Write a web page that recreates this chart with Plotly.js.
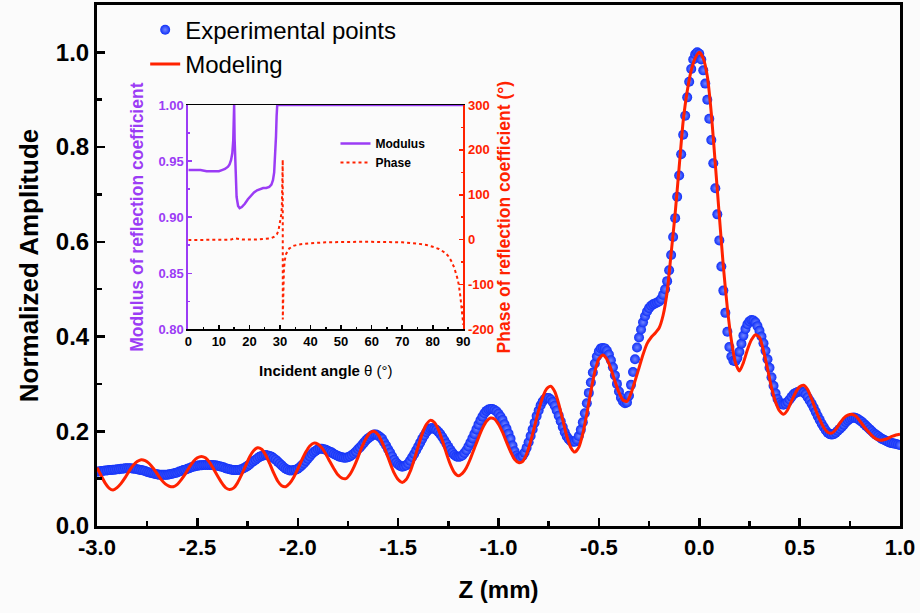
<!DOCTYPE html>
<html>
<head>
<meta charset="utf-8">
<script src="https://cdn.plot.ly/plotly-3.0.1.min.js"></script>
<style>html,body{margin:0;padding:0;background:#fbfbfb;}#chart{width:920px;height:613px;}</style>
</head>
<body>
<div id="chart"></div>
<script>
// ---------- Main chart data ----------
// Experimental points, z (mm), left part (-3.00 .. -1.01)
const expZLeft = [
-3,-2.99,-2.98,-2.97,-2.96,-2.95,-2.94,-2.93,-2.92,-2.91,
-2.9,-2.89,-2.88,-2.87,-2.86,-2.85,-2.84,-2.83,-2.82,-2.81,
-2.8,-2.79,-2.78,-2.77,-2.76,-2.75,-2.74,-2.73,-2.72,-2.71,
-2.7,-2.69,-2.68,-2.67,-2.66,-2.65,-2.64,-2.63,-2.62,-2.61,
-2.6,-2.59,-2.58,-2.57,-2.56,-2.55,-2.54,-2.53,-2.52,-2.51,
-2.5,-2.49,-2.48,-2.47,-2.46,-2.45,-2.44,-2.43,-2.42,-2.41,
-2.4,-2.39,-2.38,-2.37,-2.36,-2.35,-2.34,-2.33,-2.32,-2.31,
-2.3,-2.29,-2.28,-2.27,-2.26,-2.25,-2.24,-2.23,-2.22,-2.21,
-2.2,-2.19,-2.18,-2.17,-2.16,-2.15,-2.14,-2.13,-2.12,-2.11,
-2.1,-2.09,-2.08,-2.07,-2.06,-2.05,-2.04,-2.03,-2.02,-2.01,
-2,-1.99,-1.98,-1.97,-1.96,-1.95,-1.94,-1.93,-1.92,-1.91,
-1.9,-1.89,-1.88,-1.87,-1.86,-1.85,-1.84,-1.83,-1.82,-1.81,
-1.8,-1.79,-1.78,-1.77,-1.76,-1.75,-1.74,-1.73,-1.72,-1.71,
-1.7,-1.69,-1.68,-1.67,-1.66,-1.65,-1.64,-1.63,-1.62,-1.61,
-1.6,-1.59,-1.58,-1.57,-1.56,-1.55,-1.54,-1.53,-1.52,-1.51,
-1.5,-1.49,-1.48,-1.47,-1.46,-1.45,-1.44,-1.43,-1.42,-1.41,
-1.4,-1.39,-1.38,-1.37,-1.36,-1.35,-1.34,-1.33,-1.32,-1.31,
-1.3,-1.29,-1.28,-1.27,-1.26,-1.25,-1.24,-1.23,-1.22,-1.21,
-1.2,-1.19,-1.18,-1.17,-1.16,-1.15,-1.14,-1.13,-1.12,-1.11,
-1.1,-1.09,-1.08,-1.07,-1.06,-1.05,-1.04,-1.03,-1.02,-1.01];
const expAmpLeft = [
0.115,0.115,0.116,0.116,0.117,0.117,0.118,0.118,0.119,0.119,
0.120,0.120,0.121,0.121,0.122,0.122,0.122,0.122,0.121,0.121,
0.120,0.119,0.118,0.117,0.116,0.114,0.113,0.112,0.111,0.110,
0.109,0.108,0.108,0.108,0.108,0.108,0.109,0.110,0.111,0.112,
0.113,0.115,0.116,0.118,0.119,0.121,0.122,0.124,0.125,0.126,
0.127,0.128,0.128,0.129,0.129,0.129,0.129,0.129,0.128,0.128,
0.127,0.126,0.125,0.124,0.122,0.121,0.120,0.119,0.118,0.118,
0.118,0.119,0.120,0.122,0.124,0.127,0.130,0.134,0.137,0.140,
0.143,0.146,0.148,0.149,0.150,0.149,0.148,0.146,0.143,0.140,
0.136,0.132,0.128,0.124,0.121,0.119,0.117,0.117,0.118,0.119,
0.121,0.124,0.128,0.132,0.137,0.142,0.147,0.152,0.156,0.159,
0.162,0.163,0.163,0.162,0.161,0.159,0.157,0.155,0.152,0.150,
0.148,0.146,0.145,0.144,0.144,0.145,0.147,0.150,0.153,0.157,
0.162,0.166,0.171,0.176,0.181,0.185,0.188,0.191,0.193,0.193,
0.191,0.188,0.184,0.177,0.170,0.162,0.155,0.147,0.140,0.134,
0.130,0.127,0.125,0.126,0.128,0.132,0.138,0.145,0.152,0.160,
0.168,0.176,0.184,0.191,0.198,0.203,0.206,0.207,0.205,0.203,
0.199,0.194,0.188,0.181,0.174,0.167,0.161,0.155,0.150,0.147,
0.146,0.147,0.149,0.154,0.160,0.168,0.176,0.185,0.194,0.204,
0.214,0.223,0.231,0.238,0.243,0.246,0.247,0.247,0.245,0.242];
// Experimental points, right part (-1.00 .. 1.00)
const expZRight = [
-1,-0.99,-0.98,-0.97,-0.96,-0.95,-0.94,-0.93,-0.92,-0.91,
-0.9,-0.89,-0.88,-0.87,-0.86,-0.85,-0.84,-0.83,-0.82,-0.81,
-0.8,-0.79,-0.78,-0.77,-0.76,-0.75,-0.74,-0.73,-0.72,-0.71,
-0.7,-0.69,-0.68,-0.67,-0.66,-0.65,-0.64,-0.63,-0.62,-0.61,
-0.6,-0.59,-0.58,-0.57,-0.56,-0.55,-0.54,-0.53,-0.52,-0.51,
-0.5,-0.49,-0.48,-0.47,-0.46,-0.45,-0.44,-0.43,-0.42,-0.41,
-0.4,-0.39,-0.38,-0.37,-0.36,-0.35,-0.34,-0.33,-0.32,-0.31,
-0.3,-0.29,-0.28,-0.27,-0.26,-0.25,-0.24,-0.23,-0.22,-0.21,
-0.2,-0.19,-0.18,-0.17,-0.16,-0.15,-0.14,-0.13,-0.12,-0.11,
-0.1,-0.09,-0.08,-0.07,-0.06,-0.05,-0.04,-0.03,-0.02,-0.01,
0,0.01,0.02,0.03,0.04,0.05,0.06,0.07,0.08,0.09,
0.1,0.11,0.12,0.13,0.14,0.15,0.16,0.17,0.18,0.19,
0.2,0.21,0.22,0.23,0.24,0.25,0.26,0.27,0.28,0.29,
0.3,0.31,0.32,0.33,0.34,0.35,0.36,0.37,0.38,0.39,
0.4,0.41,0.42,0.43,0.44,0.45,0.46,0.47,0.48,0.49,
0.5,0.51,0.52,0.53,0.54,0.55,0.56,0.57,0.58,0.59,
0.6,0.61,0.62,0.63,0.64,0.65,0.66,0.67,0.68,0.69,
0.7,0.71,0.72,0.73,0.74,0.75,0.76,0.77,0.78,0.79,
0.8,0.81,0.82,0.83,0.84,0.85,0.86,0.87,0.88,0.89,
0.9,0.91,0.92,0.93,0.94,0.95,0.96,0.97,0.98,0.99,
1];
const expAmpRight = [
0.237,0.231,0.224,0.215,0.205,0.195,0.184,0.170,0.158,0.149,
0.144,0.144,0.148,0.155,0.165,0.177,0.190,0.204,0.218,0.232,
0.244,0.255,0.263,0.268,0.270,0.270,0.267,0.262,0.254,0.244,
0.233,0.221,0.209,0.198,0.189,0.183,0.179,0.178,0.178,0.182,
0.190,0.203,0.219,0.238,0.259,0.281,0.303,0.324,0.343,0.358,
0.369,0.375,0.376,0.375,0.370,0.362,0.350,0.335,0.318,0.300,
0.284,0.271,0.263,0.259,0.261,0.275,0.298,0.325,0.352,0.377,
0.398,0.415,0.430,0.443,0.453,0.460,0.465,0.468,0.470,0.472,
0.474,0.479,0.488,0.500,0.517,0.540,0.572,0.610,0.650,0.695,
0.740,0.785,0.826,0.866,0.905,0.938,0.965,0.985,0.996,1.000,
0.997,0.985,0.962,0.934,0.900,0.860,0.815,0.766,0.713,0.658,
0.603,0.548,0.497,0.450,0.410,0.378,0.358,0.349,0.348,0.355,
0.368,0.385,0.402,0.416,0.426,0.432,0.435,0.434,0.430,0.422,
0.412,0.400,0.386,0.370,0.352,0.334,0.314,0.296,0.280,0.268,
0.261,0.257,0.256,0.258,0.262,0.267,0.273,0.278,0.281,0.283,
0.284,0.284,0.282,0.278,0.272,0.265,0.258,0.250,0.241,0.232,
0.224,0.216,0.209,0.202,0.197,0.194,0.193,0.194,0.197,0.201,
0.205,0.209,0.214,0.219,0.223,0.226,0.228,0.229,0.228,0.226,
0.223,0.220,0.216,0.212,0.208,0.204,0.200,0.196,0.193,0.190,
0.187,0.184,0.182,0.180,0.178,0.176,0.175,0.174,0.173,0.172,
0.171];

// Modeling curve
const modelZ = [
-3,-2.98,-2.96,-2.94,-2.92,-2.9,-2.88,-2.86,-2.84,-2.82,
-2.8,-2.78,-2.76,-2.74,-2.72,-2.7,-2.68,-2.66,-2.64,-2.62,
-2.6,-2.58,-2.56,-2.54,-2.52,-2.5,-2.48,-2.46,-2.44,-2.42,
-2.4,-2.38,-2.36,-2.34,-2.32,-2.3,-2.28,-2.26,-2.24,-2.22,
-2.2,-2.18,-2.16,-2.14,-2.12,-2.1,-2.08,-2.06,-2.04,-2.02,
-2,-1.98,-1.96,-1.94,-1.92,-1.9,-1.88,-1.86,-1.84,-1.82,
-1.8,-1.78,-1.76,-1.74,-1.72,-1.7,-1.68,-1.66,-1.64,-1.62,
-1.6,-1.58,-1.56,-1.54,-1.52,-1.5,-1.48,-1.46,-1.44,-1.42,
-1.4,-1.38,-1.36,-1.34,-1.32,-1.3,-1.28,-1.26,-1.24,-1.22,
-1.2,-1.18,-1.16,-1.14,-1.12,-1.1,-1.08,-1.06,-1.04,-1.02,
-1,-0.98,-0.96,-0.94,-0.92,-0.9,-0.88,-0.86,-0.84,-0.82,
-0.8,-0.78,-0.76,-0.74,-0.72,-0.7,-0.68,-0.66,-0.64,-0.62,
-0.6,-0.58,-0.56,-0.54,-0.52,-0.5,-0.48,-0.46,-0.44,-0.42,
-0.4,-0.38,-0.36,-0.34,-0.32,-0.3,-0.28,-0.26,-0.24,-0.22,
-0.2,-0.18,-0.16,-0.14,-0.12,-0.1,-0.08,-0.06,-0.04,-0.02,
0,0.02,0.04,0.06,0.08,0.1,0.12,0.14,0.16,0.18,
0.2,0.22,0.24,0.26,0.28,0.3,0.32,0.34,0.36,0.38,
0.4,0.42,0.44,0.46,0.48,0.5,0.52,0.54,0.56,0.58,
0.6,0.62,0.64,0.66,0.68,0.7,0.72,0.74,0.76,0.78,
0.8,0.82,0.84,0.86,0.88,0.9,0.92,0.94,0.96,0.98,
1];
const modelAmp = [
0.123,0.107,0.091,0.080,0.076,0.081,0.090,0.102,0.116,0.128,
0.136,0.140,0.138,0.132,0.122,0.110,0.098,0.089,0.084,0.083,
0.088,0.098,0.110,0.124,0.136,0.144,0.147,0.144,0.135,0.121,
0.106,0.092,0.081,0.077,0.080,0.091,0.108,0.127,0.146,0.159,
0.165,0.162,0.150,0.132,0.112,0.095,0.085,0.083,0.090,0.103,
0.120,0.139,0.156,0.169,0.175,0.173,0.165,0.152,0.136,0.121,
0.108,0.101,0.100,0.109,0.125,0.145,0.167,0.185,0.197,0.200,
0.193,0.177,0.156,0.133,0.112,0.098,0.092,0.098,0.115,0.140,
0.168,0.195,0.214,0.223,0.219,0.204,0.181,0.154,0.130,0.113,
0.106,0.111,0.123,0.142,0.164,0.186,0.206,0.221,0.228,0.226,
0.215,0.198,0.177,0.157,0.141,0.134,0.136,0.152,0.178,0.211,
0.244,0.272,0.290,0.295,0.284,0.258,0.224,0.190,0.166,0.156,
0.166,0.195,0.237,0.284,0.326,0.353,0.361,0.352,0.332,0.306,
0.282,0.266,0.263,0.280,0.306,0.334,0.362,0.385,0.398,0.407,
0.418,0.445,0.494,0.576,0.660,0.758,0.855,0.918,0.962,0.988,
1.000,0.987,0.950,0.872,0.764,0.655,0.548,0.460,0.392,0.345,
0.327,0.345,0.372,0.393,0.404,0.398,0.370,0.332,0.292,0.262,
0.243,0.236,0.245,0.264,0.282,0.294,0.297,0.288,0.268,0.245,
0.225,0.208,0.198,0.196,0.204,0.217,0.228,0.234,0.236,0.232,
0.222,0.210,0.200,0.191,0.184,0.181,0.182,0.185,0.189,0.192,
0.194];

const xTickVals = [-3,-2.5,-2,-1.5,-1,-0.5,0,0.5,1];
const xTickText = ['-3.0','-2.5','-2.0','-1.5','-1.0','-0.5','0.0','0.5','1.0'];
const yTickVals = [0,0.2,0.4,0.6,0.8,1.0];
const yTickText = ['0.0','0.2','0.4','0.6','0.8','1.0'];

// ---------- Inset data ----------
const modAngle = [0,2,4,6,8,10,11,12,13,13.5,14,14.4,14.7,14.9,15.0,15.15,15.4,15.8,16.3,16.8,17.5,18.5,19.5,20.5,21.5,22.5,23.5,24.5,25.5,26.5,27.2,27.7,28.1,28.4,28.7,28.9,29.1,35,45,60,75,90];
const modVal = [0.942,0.942,0.942,0.941,0.941,0.941,0.942,0.943,0.945,0.947,0.951,0.957,0.968,0.985,1.0,0.97,0.94,0.918,0.910,0.908,0.909,0.912,0.916,0.919,0.922,0.924,0.925,0.926,0.926,0.927,0.929,0.933,0.940,0.952,0.972,0.99,1.0,1.0,1.0,1.0,1.0,1.0];
const phaseAngle = [0,5,10,14,15,16,18,22,25,27,28,29,29.5,30,30.4,30.6,30.8,30.9,30.92,31.0,31.1,31.3,31.6,32,33,34.4,36,38,40,45,50,55,60,65,70,75,78,80,82,84,85,86,87,88,88.5,89,89.5,90];
const phaseVal = [-1,-1,-1,0,3,2,0,0,1,3,6,12,20,36,55,70,110,178,-178,-150,-110,-65,-45,-32,-20,-14,-11,-9,-8,-6,-5,-5,-5,-5,-6,-9,-12,-16,-21,-29,-36,-47,-62,-85,-100,-125,-155,-190];
const inXTickVals = [0,10,20,30,40,50,60,70,80,90];
const inXTickText = ['0','10','20','30','40','50','60','70','80','90'];
const inYTickVals = [0.80,0.85,0.90,0.95,1.00];
const inYTickText = ['0.80','0.85','0.90','0.95','1.00'];
const inY2TickVals = [-200,-100,0,100,200,300];
const inY2TickText = ['-200','-100','0','100','200','300'];

const FONT = 'Liberation Sans, Arial, Helvetica, sans-serif';
const PURPLE = '#9b3cf5';
const RED = '#ff2200';
const BLUE = '#1030f8';

const traces = [
  {
    x: expZLeft.concat(expZRight), y: expAmpLeft.concat(expAmpRight),
    type: 'scatter', mode: 'markers', name: 'Experimental points',
    marker: {size: 10, color: BLUE, gradient: {type: 'radial', color: '#7185ff'}, line: {width: 0}},
    legend: 'legend'
  },
  {
    x: modelZ, y: modelAmp, type: 'scatter', mode: 'lines', name: 'Modeling',
    line: {color: RED, width: 3, shape: 'spline', smoothing: 0.6},
    legend: 'legend'
  },
  {
    x: modAngle, y: modVal, xaxis: 'x2', yaxis: 'y2', type: 'scatter', mode: 'lines', name: 'Modulus',
    line: {color: PURPLE, width: 2.5}, legend: 'legend2'
  },
  {
    x: phaseAngle, y: phaseVal, xaxis: 'x2', yaxis: 'y3', type: 'scatter', mode: 'lines', name: 'Phase',
    line: {color: RED, width: 2, dash: 'dot'}, legend: 'legend2'
  }
];

const layout = {
  width: 920, height: 613,
  margin: {l: 97, r: 20, t: 5, b: 87},
  paper_bgcolor: '#fbfbfb', plot_bgcolor: '#fbfbfb',
  font: {family: FONT, color: '#000'},
  showlegend: true,
  legend: {
    x: 0.06, y: 0.995, xanchor: 'left', yanchor: 'top',
    bgcolor: 'rgba(0,0,0,0)', font: {family: FONT, size: 24, color: '#000'},
    tracegroupgap: 0
  },
  legend2: {
    x: 0.297, y: 0.762, xanchor: 'left', yanchor: 'top',
    bgcolor: 'rgba(0,0,0,0)', font: {family: FONT, size: 12, color: '#000', weight: 'bold'},
    tracegroupgap: 0
  },
  xaxis: {
    domain: [0, 1], range: [-3, 1], anchor: 'y',
    tickmode: 'array', tickvals: xTickVals, ticktext: xTickText,
    ticks: 'inside', ticklen: 8, tickwidth: 2.5, tickcolor: '#000',
    minor: {tickmode: 'linear', tick0: -3, dtick: 0.25, ticks: 'inside', ticklen: 5, tickwidth: 2.5, tickcolor: '#000'},
    showline: true, linecolor: '#000', linewidth: 3, mirror: true,
    showgrid: false, zeroline: false,
    tickfont: {family: FONT, size: 22, color: '#000', weight: 'bold'},
    title: {text: 'Z (mm)', font: {family: FONT, size: 24, color: '#000', weight: 'bold'}, standoff: 22}
  },
  yaxis: {
    domain: [0, 1], range: [0, 1.1], anchor: 'x',
    tickmode: 'array', tickvals: yTickVals, ticktext: yTickText,
    ticks: 'inside', ticklen: 8, tickwidth: 2.5, tickcolor: '#000',
    minor: {tickmode: 'linear', tick0: 0, dtick: 0.1, ticks: 'inside', ticklen: 5, tickwidth: 2.5, tickcolor: '#000'},
    showline: true, linecolor: '#000', linewidth: 3, mirror: true,
    showgrid: false, zeroline: false,
    tickfont: {family: FONT, size: 24, color: '#000', weight: 'bold'},
    title: {text: 'Normalized Amplitude', font: {family: FONT, size: 26, color: '#000', weight: 'bold'}, standoff: 10}
  },
  xaxis2: {
    domain: [0.1137, 0.4562], range: [0, 90], anchor: 'y2',
    tickmode: 'array', tickvals: inXTickVals, ticktext: inXTickText,
    ticks: 'inside', ticklen: 4, tickwidth: 1.5, tickcolor: '#000',
    minor: {tickmode: 'linear', tick0: 0, dtick: 5, ticks: 'inside', ticklen: 2, tickwidth: 1.5, tickcolor: '#000'},
    showline: true, linecolor: '#000', linewidth: 1.5, mirror: true,
    showgrid: false, zeroline: false,
    tickfont: {family: FONT, size: 13, color: '#000', weight: 'bold'},
    title: {text: '<b>Incident angle </b>θ (°)', font: {family: FONT, size: 15, color: '#000'}, standoff: 17}
  },
  yaxis2: {
    domain: [0.3775, 0.808], range: [0.8, 1.0], anchor: 'x2',
    tickmode: 'array', tickvals: inYTickVals, ticktext: inYTickText,
    ticks: 'inside', ticklen: 4, tickwidth: 1.5, tickcolor: PURPLE,
    minor: {tickmode: 'linear', tick0: 0.8, dtick: 0.025, ticks: 'inside', ticklen: 2, tickwidth: 1.5, tickcolor: PURPLE},
    showline: true, linecolor: PURPLE, linewidth: 2,
    showgrid: false, zeroline: false,
    tickfont: {family: FONT, size: 13, color: PURPLE, weight: 'bold'},
    title: {text: 'Modulus of reflection coefficient', font: {family: FONT, size: 17.5, color: PURPLE, weight: 'bold'}, standoff: 10}
  },
  yaxis3: {
    range: [-200, 300], anchor: 'x2', overlaying: 'y2', side: 'right',
    tickmode: 'array', tickvals: inY2TickVals, ticktext: inY2TickText,
    ticks: 'inside', ticklen: 4, tickwidth: 1.5, tickcolor: RED,
    minor: {tickmode: 'linear', tick0: -200, dtick: 50, ticks: 'inside', ticklen: 2, tickwidth: 1.5, tickcolor: RED},
    showline: true, linecolor: RED, linewidth: 2,
    showgrid: false, zeroline: false,
    tickfont: {family: FONT, size: 13, color: RED, weight: 'bold'},
    title: {text: 'Phase of reflection coefficient (°)', font: {family: FONT, size: 17.5, color: RED, weight: 'bold'}, standoff: 5}
  }
};

Plotly.newPlot('chart', traces, layout, {displayModeBar: false, staticPlot: true});
</script>
</body>
</html>
